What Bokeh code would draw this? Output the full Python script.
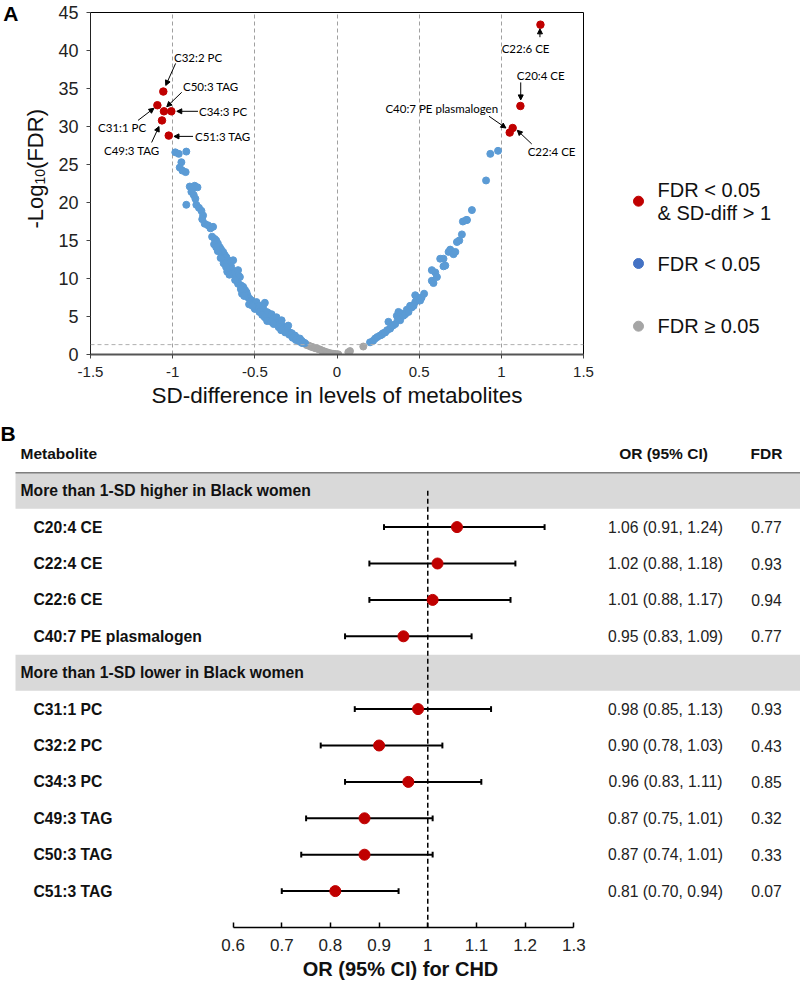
import math
from bokeh.plotting import figure
from bokeh.models import (Range1d, FixedTicker, NumeralTickFormatter, Span, Arrow, NormalHead,
                          LinearAxis, CustomJSTickFormatter)
from bokeh.layouts import column, row
from bokeh.embed import file_html
from bokeh.resources import INLINE
from bokeh.core.properties import value

# ---------------- Panel A data (SD-difference, -log10 FDR) ----------------
sig_names = ["C32:2 PC", "C50:3 TAG", "C34:3 PC", "C31:1 PC", "C49:3 TAG", "C51:3 TAG",
             "C22:6 CE", "C20:4 CE", "C40:7 PE plasmalogen", "C22:4 CE"]
sig_x = [-1.057, -1.053, -1.008, -1.093, -1.065, -1.024, 1.238, 1.116, 1.051, 1.069]
sig_y = [34.6, 32.0, 32.0, 32.8, 30.8, 28.8, 43.4, 32.7, 29.2, 29.8]

blue_pts = [
    (-0.984, 26.6), (-0.963, 26.4), (-0.917, 26.7), (-0.947, 25.3), (-0.957, 24.6), (-0.921, 24.0),
    (-0.941, 24.2), (-0.896, 22.1), (-0.866, 22.2), (-0.886, 21.4), (-0.849, 22.0), (-0.880, 21.8),
    (-0.872, 21.0), (-0.917, 19.7), (-0.856, 19.7), (-0.862, 20.5), (-0.840, 19.3), (-0.825, 18.9),
    (-0.815, 18.3), (-0.820, 17.8), (-0.805, 17.2), (-0.785, 17.0), (-0.770, 16.6), (-0.754, 16.8),
    (-0.744, 15.2), (-0.735, 15.0), (-0.725, 14.6), (-0.713, 14.1), (-0.705, 13.8), (-0.693, 13.5),
    (-0.700, 13.0), (-0.683, 13.1), (-0.673, 12.8), (-0.662, 12.4), (-0.652, 12.1), (-0.632, 12.4),
    (-0.645, 11.6), (-0.652, 11.3), (-0.630, 11.0), (-0.622, 10.8), (-0.602, 11.1), (-0.612, 10.0),
    (-0.600, 10.4), (-0.591, 10.2), (-0.605, 9.6), (-0.602, 9.3), (-0.585, 9.1), (-0.571, 8.9),
    (-0.560, 8.5), (-0.551, 8.2), (-0.545, 7.8), (-0.541, 7.5), (-0.530, 7.3), (-0.520, 7.1),
    (-0.510, 6.8), (-0.500, 6.0), (-0.490, 6.9), (-0.485, 6.3), (-0.470, 6.4), (-0.460, 5.9),
    (-0.450, 6.2), (-0.439, 6.8), (-0.429, 5.6), (-0.420, 5.5), (-0.410, 5.0), (-0.398, 5.3),
    (-0.390, 4.7), (-0.380, 4.6), (-0.368, 4.9), (-0.360, 4.2), (-0.350, 4.0), (-0.337, 4.5),
    (-0.330, 3.7), (-0.320, 3.5), (-0.307, 3.6), (-0.297, 3.8), (-0.300, 3.1), (-0.287, 2.9),
    (-0.275, 2.8), (-0.265, 2.4), (-0.256, 2.5), (-0.245, 2.2), (-0.235, 2.0), (-0.226, 2.1),
    (-0.215, 1.8), (-0.205, 1.6), (-0.195, 1.5), (-0.760, 15.5), (-0.748, 14.5), (-0.690, 12.0),
    (-0.675, 11.5), (-0.668, 10.9), (-0.640, 10.6), (-0.620, 9.8), (-0.578, 8.0), (-0.565, 7.7),
    (-0.535, 6.6), (-0.515, 6.4), (-0.472, 5.6), (-0.455, 5.2), (-0.440, 4.9), (-0.425, 4.4),
    (-0.400, 4.3), (-0.385, 4.0), (-0.355, 3.6), (-0.340, 3.2), (-0.315, 2.9), (-0.290, 2.6),
    (-0.270, 2.2), (-0.250, 1.9), (-0.230, 1.7), (-0.212, 1.5), (-0.725, 13.6), (-0.708, 12.7),
    (-0.735, 14.1), (-0.655, 10.5), (-0.585, 8.6),
    (0.201, 1.6), (0.220, 1.8), (0.232, 2.1), (0.245, 2.3), (0.262, 2.5), (0.272, 2.6),
    (0.280, 2.8), (0.293, 2.9), (0.305, 3.2), (0.313, 4.3), (0.323, 3.4), (0.330, 3.7),
    (0.340, 3.8), (0.354, 4.0), (0.364, 5.1), (0.374, 5.6), (0.370, 4.6), (0.384, 4.5),
    (0.390, 5.4), (0.404, 5.1), (0.415, 5.3), (0.425, 5.9), (0.435, 5.6), (0.445, 6.4),
    (0.455, 6.2), (0.466, 6.4), (0.476, 6.9), (0.476, 7.8), (0.486, 7.5), (0.496, 7.2),
    (0.506, 7.1), (0.515, 7.5), (0.530, 8.0), (0.577, 9.7), (0.587, 9.4), (0.598, 10.8),
    (0.577, 11.1), (0.608, 10.2), (0.628, 12.6), (0.648, 11.6), (0.659, 11.7), (0.648, 12.6),
    (0.679, 13.5), (0.689, 13.8), (0.709, 13.2), (0.720, 13.5), (0.730, 14.8), (0.744, 15.0),
    (0.760, 15.8), (0.766, 17.5), (0.791, 17.7), (0.787, 17.7), (0.821, 19.0), (0.907, 22.9),
    (0.933, 26.4), (0.980, 26.8),
]
ns_pts = [
    (-0.185, 1.25), (-0.175, 1.2), (-0.165, 1.1), (-0.155, 1.0), (-0.145, 0.95), (-0.135, 0.85),
    (-0.125, 0.8), (-0.114, 0.72), (-0.104, 0.65), (-0.094, 0.55), (-0.084, 0.45), (-0.074, 0.38),
    (-0.063, 0.3), (-0.053, 0.22), (-0.043, 0.16), (-0.032, 0.12), (-0.022, 0.08), (-0.012, 0.05),
    (-0.005, 0.03), (0.008, 0.02), (0.069, 0.3), (0.079, 0.45), (0.160, 1.05),
]
blue_x = [p[0] for p in blue_pts]
blue_y = [p[1] for p in blue_pts]
ns_x = [p[0] for p in ns_pts]
ns_y = [p[1] for p in ns_pts]

fdr_threshold = 1.30103  # -log10(0.05)

# annotation label positions and arrows
ann_text_x = [-0.992, -0.937, -0.840, -1.454, -1.418, -0.864, 1.002, 1.094, 0.980, 1.160]
ann_text_y = [39.1, 35.3, 32.0, 29.9, 26.8, 28.7, 40.2, 36.7, 32.4, 26.75]
ann_align = ["left", "left", "left", "left", "left", "left", "left", "left", "right", "left"]
arr_x0 = [-0.982, -0.945, -0.846, -1.211, -1.128, -0.876, 1.235, 1.118, 0.925, 1.185]
arr_y0 = [38.3, 34.5, 32.0, 30.8, 27.9, 28.7, 41.75, 35.8, 31.35, 27.7]
arr_x1 = [-1.042, -1.036, -0.975, -1.114, -1.083, -0.992, 1.235, 1.118, 1.028, 1.097]
arr_y1 = [35.4, 32.6, 32.0, 32.4, 30.0, 28.7, 42.85, 33.5, 29.8, 29.5]

legend_labels = ["FDR < 0.05\n& SD-diff > 1", "FDR < 0.05", "FDR \u2265 0.05"]
legend_colors = ["#c00000", "#4472c4", "#a5a5a5"]

x_ticks_a = [-1.5, -1, -0.5, 0, 0.5, 1, 1.5]
y_ticks_a = [0, 5, 10, 15, 20, 25, 30, 35, 40, 45]

# ---------------- Panel B data ----------------
metabolites = ["C20:4 CE", "C22:4 CE", "C22:6 CE", "C40:7 PE plasmalogen",
               "C31:1 PC", "C32:2 PC", "C34:3 PC", "C49:3 TAG", "C50:3 TAG", "C51:3 TAG"]
group_of = [0, 0, 0, 0, 1, 1, 1, 1, 1, 1]
groups = ["More than 1-SD higher in Black women", "More than 1-SD lower in Black women"]
or_est = [1.06, 1.02, 1.01, 0.95, 0.98, 0.90, 0.96, 0.87, 0.87, 0.81]
ci_lo = [0.91, 0.88, 0.88, 0.83, 0.85, 0.78, 0.83, 0.75, 0.74, 0.70]
ci_hi = [1.24, 1.18, 1.17, 1.09, 1.13, 1.03, 1.11, 1.01, 1.01, 0.94]
fdr_b = [0.77, 0.93, 0.94, 0.77, 0.93, 0.43, 0.85, 0.32, 0.33, 0.07]
x_ticks_b = [0.6, 0.7, 0.8, 0.9, 1.0, 1.1, 1.2, 1.3]

FONT = "Liberation Sans"
ANN_FONT = "Lato"
RED = "#c00000"
BLUE = "#5b9bd5"
GRAY = "#a5a5a5"
TXT = "#111111"

# ================= Panel A: volcano =================
H1 = 414
TOP1, BOT1 = 12, 60          # frame borders shared by the whole top row
FRAME_BOTTOM = H1 - BOT1     # page y of the frame bottom (354)
STRIP_W = 50
P1_W = 560
LEG_W = 800 - STRIP_W - P1_W

p1 = figure(width=P1_W, height=H1, x_range=Range1d(-1.5, 1.5), y_range=Range1d(0, 45),
            output_backend="svg", toolbar_location=None,
            min_border_left=40, min_border_right=27, min_border_top=TOP1, min_border_bottom=BOT1)
p1.outline_line_color = "black"
p1.outline_line_width = 1

p1.xaxis.ticker = FixedTicker(ticks=x_ticks_a)
p1.xaxis.formatter = NumeralTickFormatter(format="0.[0]")
p1.yaxis.ticker = FixedTicker(ticks=y_ticks_a)
p1.xaxis.axis_label = "SD-difference in levels of metabolites"
p1.xaxis.axis_label_text_font = FONT
p1.xaxis.axis_label_text_font_size = "22.5px"
p1.xaxis.axis_label_text_font_style = "normal"
p1.xaxis.axis_label_text_color = TXT
p1.xaxis.axis_label_standoff = 3
p1.xaxis.major_label_text_font = FONT
p1.xaxis.major_label_text_font_size = "15px"
p1.xaxis.major_label_standoff = 8
p1.yaxis.major_label_text_font = FONT
p1.yaxis.major_label_text_font_size = "18px"
p1.yaxis.major_label_standoff = 8
for ax in (p1.xaxis, p1.yaxis):
    ax.major_label_text_color = "#222222"
    ax.minor_tick_line_color = None
    ax.major_tick_in = 0
    ax.major_tick_out = 4
    ax.major_tick_line_color = "#444444"
p1.xaxis.axis_line_color = "#555555"
p1.xaxis.axis_line_width = 2
p1.yaxis.axis_line_color = "#222222"

p1.ygrid.visible = False
p1.xgrid.ticker = FixedTicker(ticks=[-1, -0.5, 0, 0.5, 1])
p1.xgrid.grid_line_color = "#a0a0a0"
p1.xgrid.grid_line_dash = "4 3"
p1.xgrid.grid_line_width = 1
p1.add_layout(Span(location=fdr_threshold, dimension="width", line_color="#b0b0b0",
                   line_dash="4 3", line_width=1))

p1.scatter(ns_x, ns_y, size=7, color=GRAY)
p1.scatter(blue_x, blue_y, size=7, color=BLUE)
p1.scatter(sig_x, sig_y, size=7.5, color=RED)

for i in range(len(sig_names)):
    p1.add_layout(Arrow(end=NormalHead(size=5, fill_color="black", line_color="black", line_width=1),
                        x_start=arr_x0[i], y_start=arr_y0[i], x_end=arr_x1[i], y_end=arr_y1[i],
                        line_color="black", line_width=1))
p1.text(x=ann_text_x, y=ann_text_y, text=sig_names, text_align=ann_align,
        text_baseline="middle", text_font=value(ANN_FONT), text_font_size="11.5px",
        text_color="black")

# ---- left strip: panel letter (as a tick label) and y-axis title ----
STRIP_L = 16
strip = figure(width=STRIP_W, height=H1, x_range=Range1d(STRIP_L, STRIP_W),
               y_range=Range1d(-FRAME_BOTTOM, -TOP1),
               x_axis_location=None, y_axis_location=None,
               min_border_left=STRIP_L, min_border_right=0, min_border_top=TOP1,
               min_border_bottom=BOT1, output_backend="svg", toolbar_location=None)
strip.outline_line_color = None
strip.grid.visible = False
letter_axis = LinearAxis(ticker=FixedTicker(ticks=[-13]),
                         formatter=CustomJSTickFormatter(code="return 'A'"),
                         axis_line_color=None, major_tick_line_color=None,
                         minor_tick_line_color=None, major_tick_out=0, major_tick_in=0,
                         major_label_standoff=1, major_label_text_font=FONT,
                         major_label_text_font_size="21px", major_label_text_font_style="bold",
                         major_label_text_color="black")
strip.add_layout(letter_axis, "left")

ytitle_parts = ["-Log", "10", "(FDR)"]
ytitle_x = [33, 38.5, 33]
ytitle_y = [-228, -184, -168.4]        # page y of each part's start (text runs upward)
ytitle_size = ["22px", "14px", "22px"]
for t, xx, yy, fs in zip(ytitle_parts, ytitle_x, ytitle_y, ytitle_size):
    strip.text(x=[xx], y=[yy], text=[t], angle=math.pi / 2, text_align="left",
               text_baseline="middle", text_font=value(FONT), text_font_size=fs, text_color=TXT)

# ================= Legend panel =================
pl = figure(width=LEG_W, height=H1, x_range=Range1d(0, LEG_W),
            y_range=Range1d(FRAME_BOTTOM, TOP1),
            x_axis_location=None, y_axis_location=None,
            min_border_left=0, min_border_right=0, min_border_top=TOP1, min_border_bottom=BOT1,
            output_backend="svg", toolbar_location=None)
pl.outline_line_color = None
pl.grid.visible = False
leg_marker_y = [200.7, 263.0, 325.7]
line_h = 23.0
lx, ly, lt = [], [], []
for lab, yc in zip(legend_labels, leg_marker_y):
    parts = lab.split("\n")
    start = yc - (len(parts) - 1) * line_h / 2
    for j, part in enumerate(parts):
        lx.append(47)
        ly.append(start + j * line_h)
        lt.append(part)
pl.scatter([28, 28, 28], leg_marker_y, size=10, color=legend_colors)
pl.text(x=lx, y=ly, text=lt, text_align="left", text_baseline="middle",
        text_font=value(FONT), text_font_size="20px", text_color=TXT)

# ================= Panel B: forest plot =================
PX = 486.7          # pixels per OR unit
X0 = 0.6 - 232.6 / PX
X1 = X0 + 800 / PX
PITCH = 36.4
H2 = 571
FRAME_H2 = 513
p2 = figure(width=800, height=H2, x_range=Range1d(X0, X1),
            y_range=Range1d(12, 12 - FRAME_H2 / PITCH),
            y_axis_location=None, output_backend="svg", toolbar_location=None,
            min_border_left=0, min_border_right=0, min_border_top=0,
            min_border_bottom=H2 - FRAME_H2)
p2.outline_line_color = None
p2.grid.visible = False

def px_to_or(px):
    return X0 + px / PX

def py_to_k(py):
    return (py - 490) / PITCH

# slot positions
group_k, item_k = [], [0] * len(metabolites)
k = 0
for g in range(len(groups)):
    group_k.append(k)
    k += 1
    for i, gg in enumerate(group_of):
        if gg == g:
            item_k[i] = k
            k += 1

band_left = px_to_or(15)
p2.quad(left=[band_left] * len(groups), right=[X1] * len(groups),
        top=[g - 0.495 for g in group_k], bottom=[g + 0.495 for g in group_k],
        fill_color="#d9d9d9", line_color=None)
p2.segment(x0=[band_left], y0=[py_to_k(472)], x1=[X1], y1=[py_to_k(472)],
           line_color="#7f7f7f", line_width=1.5)

p2.segment(x0=[1.0], y0=[0], x1=[1.0], y1=[12], line_color="black", line_width=1.5, line_dash="5 3")

p2.segment(x0=ci_lo, y0=item_k, x1=ci_hi, y1=item_k, line_color="black", line_width=2)
p2.segment(x0=ci_lo, y0=[v - 0.08 for v in item_k], x1=ci_lo, y1=[v + 0.08 for v in item_k],
           line_color="black", line_width=2)
p2.segment(x0=ci_hi, y0=[v - 0.08 for v in item_k], x1=ci_hi, y1=[v + 0.08 for v in item_k],
           line_color="black", line_width=2)
p2.scatter(or_est, item_k, size=11, color=RED)

# texts
p2.text(x=[px_to_or(0)], y=[py_to_k(433)], text=["B"], text_align="left", text_baseline="middle",
        text_font=value(FONT), text_font_size="21px", text_font_style="bold", text_color="black")
p2.text(x=[px_to_or(20)], y=[py_to_k(453)], text=["Metabolite"], text_align="left",
        text_baseline="middle", text_font=value(FONT), text_font_size="15.5px",
        text_font_style="bold", text_color=TXT)
p2.text(x=[px_to_or(663), px_to_or(766)], y=[py_to_k(453)] * 2, text=["OR (95% CI)", "FDR"],
        text_align="center", text_baseline="middle",
        text_font=value(FONT), text_font_size="15.5px", text_font_style="bold", text_color=TXT)
p2.text(x=[px_to_or(20)] * len(groups), y=group_k, text=groups, text_align="left",
        text_baseline="middle", text_font=value(FONT), text_font_size="15.7px",
        text_font_style="bold", text_color=TXT)
p2.text(x=[px_to_or(33)] * len(metabolites), y=item_k, text=metabolites, text_align="left",
        text_baseline="middle", text_font=value(FONT), text_font_size="15.7px",
        text_font_style="bold", text_color=TXT)
or_txt = ["%.2f (%.2f, %.2f)" % (o, l, h) for o, l, h in zip(or_est, ci_lo, ci_hi)]
p2.text(x=[px_to_or(665)] * len(or_txt), y=item_k, text=or_txt, text_align="center",
        text_baseline="middle", text_font=value(FONT), text_font_size="15.7px", text_color="#222222")
p2.text(x=[px_to_or(766)] * len(fdr_b), y=item_k, text=["%.2f" % f for f in fdr_b],
        text_align="center", text_baseline="middle", text_font=value(FONT),
        text_font_size="15.7px", text_color="#222222")

p2.xaxis.ticker = FixedTicker(ticks=x_ticks_b)
p2.xaxis.bounds = (0.6, 1.3)
p2.xaxis.formatter = NumeralTickFormatter(format="0.[0]")
p2.xaxis.axis_line_color = "black"
p2.xaxis.axis_line_width = 1.5
p2.xaxis.major_tick_in = 5
p2.xaxis.major_tick_out = 0
p2.xaxis.major_tick_line_width = 1.5
p2.xaxis.major_tick_line_color = "black"
p2.xaxis.minor_tick_line_color = None
p2.xaxis.major_label_standoff = 11
p2.xaxis.major_label_text_font = FONT
p2.xaxis.major_label_text_font_size = "17px"
p2.xaxis.major_label_text_color = "#222222"
p2.xaxis.axis_label = "OR (95% CI) for CHD"
p2.xaxis.axis_label_text_font = FONT
p2.xaxis.axis_label_text_font_size = "20px"
p2.xaxis.axis_label_text_font_style = "bold"
p2.xaxis.axis_label_text_color = TXT
p2.xaxis.axis_label_standoff = 4

layout = column(row(strip, p1, pl), p2)
open("out.html", "w").write(file_html(layout, INLINE))
